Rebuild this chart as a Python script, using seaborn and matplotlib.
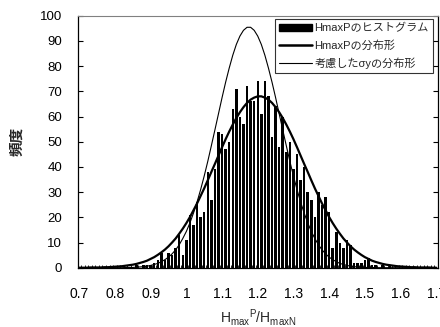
import numpy as np
import pandas as pd
import matplotlib
matplotlib.use("Agg")
import matplotlib.pyplot as plt
from matplotlib.patches import Patch
from matplotlib.lines import Line2D
import seaborn as sns

# ---------------- data ----------------
# class centres of the histogram (category axis 0.70 ... 1.70, step 0.01)
bins = np.round(np.linspace(0.70, 1.70, 101), 2)

# histogram counts (0.70 ... 1.70)
counts = [
    0, 0, 0, 0, 0, 0, 0, 0, 0, 0,            # 0.70-0.79
    0, 0, 0, 0, 0, 0, 1, 0, 1, 1,            # 0.80-0.89
    1, 2, 3, 6, 3, 6, 5, 8, 13, 5,           # 0.90-0.99
    11, 21, 17, 26, 20, 22, 38, 27, 39, 54,  # 1.00-1.09
    53, 47, 50, 63, 71, 60, 57, 72, 66, 66,  # 1.10-1.19
    74, 61, 74, 68, 52, 64, 48, 60, 46, 50,  # 1.20-1.29
    39, 45, 35, 40, 30, 27, 20, 30, 25, 28,  # 1.30-1.39
    22, 8, 14, 10, 8, 11, 9, 2, 2, 2,        # 1.40-1.49
    3, 4, 1, 1, 0, 1, 0, 1, 0, 0,            # 1.50-1.59
    0, 0, 0, 0, 0, 0, 0, 0, 0, 0, 0,         # 1.60-1.70
]

# fitted distribution of HmaxP (thick curve)
dist_hmaxp = [
    0.0, 0.0, 0.0, 0.1, 0.1, 0.1, 0.1, 0.2, 0.2, 0.3,
    0.4, 0.5, 0.6, 0.8, 1.0, 1.2, 1.5, 1.9, 2.3, 2.8,
    3.5, 4.2, 5.1, 6.1, 7.2, 8.5, 10.0, 11.6, 13.5, 15.5,
    17.7, 20.1, 22.8, 25.5, 28.5, 31.5, 34.7, 38.0, 41.2, 44.5,
    47.8, 51.0, 54.0, 56.8, 59.4, 61.7, 63.7, 65.4, 66.7, 67.5,
    68.0, 68.0, 67.5, 66.7, 65.4, 63.7, 61.7, 59.4, 56.8, 54.0,
    51.0, 47.8, 44.5, 41.2, 38.0, 34.7, 31.5, 28.5, 25.5, 22.8,
    20.1, 17.7, 15.5, 13.5, 11.6, 10.0, 8.5, 7.2, 6.1, 5.1,
    4.2, 3.5, 2.8, 2.3, 1.9, 1.5, 1.2, 1.0, 0.8, 0.6,
    0.5, 0.4, 0.3, 0.2, 0.2, 0.1, 0.1, 0.1, 0.1, 0.0, 0.0,
]

# distribution considering sigma_y (thin curve)
dist_sigma = [
    0.0, 0.0, 0.0, 0.0, 0.0, 0.0, 0.0, 0.0, 0.0, 0.0,
    0.0, 0.0, 0.0, 0.1, 0.1, 0.1, 0.2, 0.3, 0.4, 0.6,
    0.9, 1.3, 1.7, 2.4, 3.2, 4.2, 5.5, 7.1, 9.1, 11.6,
    14.4, 17.8, 21.7, 26.1, 31.0, 36.4, 42.2, 48.4, 54.7, 61.1,
    67.5, 73.6, 79.2, 84.3, 88.6, 91.9, 94.2, 95.4, 95.4, 94.2,
    91.9, 88.6, 84.3, 79.2, 73.6, 67.5, 61.1, 54.7, 48.4, 42.2,
    36.4, 31.0, 26.1, 21.7, 17.8, 14.4, 11.6, 9.1, 7.1, 5.5,
    4.2, 3.2, 2.4, 1.7, 1.3, 0.9, 0.6, 0.4, 0.3, 0.2,
    0.1, 0.1, 0.1, 0.0, 0.0, 0.0, 0.0, 0.0, 0.0, 0.0,
    0.0, 0.0, 0.0, 0.0, 0.0, 0.0, 0.0, 0.0, 0.0, 0.0, 0.0,
]

xtick_values = [0.7, 0.8, 0.9, 1.0, 1.1, 1.2, 1.3, 1.4, 1.5, 1.6, 1.7]
xtick_labels = ["0.7", "0.8", "0.9", "1", "1.1", "1.2", "1.3", "1.4", "1.5", "1.6", "1.7"]
ytick_values = list(range(0, 101, 10))

legend_labels = ["HmaxPのヒストグラム", "HmaxPの分布形", "考慮したσyの分布形"]

df = pd.DataFrame({"x": bins, "count": counts,
                   "hmaxp": dist_hmaxp, "sigma": dist_sigma})

# ---------------- style ----------------
sns.set_theme(style="white")
plt.rcParams["font.family"] = ["Liberation Sans", "Noto Sans CJK JP", "DejaVu Sans"]
plt.rcParams["mathtext.fontset"] = "custom"
plt.rcParams["mathtext.rm"] = "Liberation Sans"
plt.rcParams["mathtext.it"] = "Liberation Sans"

fig = plt.figure(figsize=(4.40, 3.27), dpi=100)
ax = fig.add_axes([77.5 / 440, 59.3 / 327, 360.5 / 440, 252 / 327])

sns.barplot(data=df, x="x", y="count", native_scale=True, color="black",
            saturation=1, width=0.7, linewidth=0, ax=ax)
sns.lineplot(data=df, x="x", y="hmaxp", color="black", linewidth=1.6, ax=ax)
sns.lineplot(data=df, x="x", y="sigma", color="black", linewidth=0.8, ax=ax)

ax.set_xlim(0.695, 1.705)
ax.set_ylim(0, 100)

ax.set_xticks(xtick_values)
ax.set_xticklabels(xtick_labels, fontsize=10)
ax.set_xticks(np.round(np.arange(0.695, 1.7051, 0.01), 3), minor=True)
ax.tick_params(axis="x", which="major", length=0, pad=14, colors="black")
ax.tick_params(axis="x", which="minor", direction="in", length=2.3,
               width=0.6, bottom=True, color="black")

ax.set_yticks(ytick_values)
ax.set_yticklabels([str(v) for v in ytick_values], fontsize=9.5)
ax.tick_params(axis="y", which="major", direction="in", length=3.5, width=0.8,
               left=True, right=True, pad=11, colors="black")

for side in ["left", "bottom", "right"]:
    ax.spines[side].set_color("black")
    ax.spines[side].set_linewidth(0.9)
ax.spines["top"].set_color("#808080")
ax.spines["top"].set_linewidth(0.8)

ax.set_ylabel("頻度", fontsize=10.5, fontweight="bold",
              family=["Noto Sans CJK JP"])
ax.yaxis.set_label_coords(-0.148, 0.5)
ax.set_xlabel(r"$\mathregular{H_{max}{}^{P}/H_{maxN}}$", fontsize=10)
ax.xaxis.set_label_coords(0.5, -0.155)

handles = [Patch(facecolor="black", edgecolor="black"),
           Line2D([], [], color="black", linewidth=1.8),
           Line2D([], [], color="black", linewidth=0.8)]
leg = ax.legend(handles, legend_labels, loc="upper right",
                bbox_to_anchor=(0.985, 0.987), fontsize=8, frameon=True,
                fancybox=False, shadow=False, borderpad=0.35,
                handlelength=3.0, handleheight=0.6, handletextpad=0.2,
                labelspacing=0.62, borderaxespad=0.0)
leg.get_frame().set_edgecolor("black")
leg.get_frame().set_linewidth(0.8)

fig.savefig("out.png", dpi=100)
